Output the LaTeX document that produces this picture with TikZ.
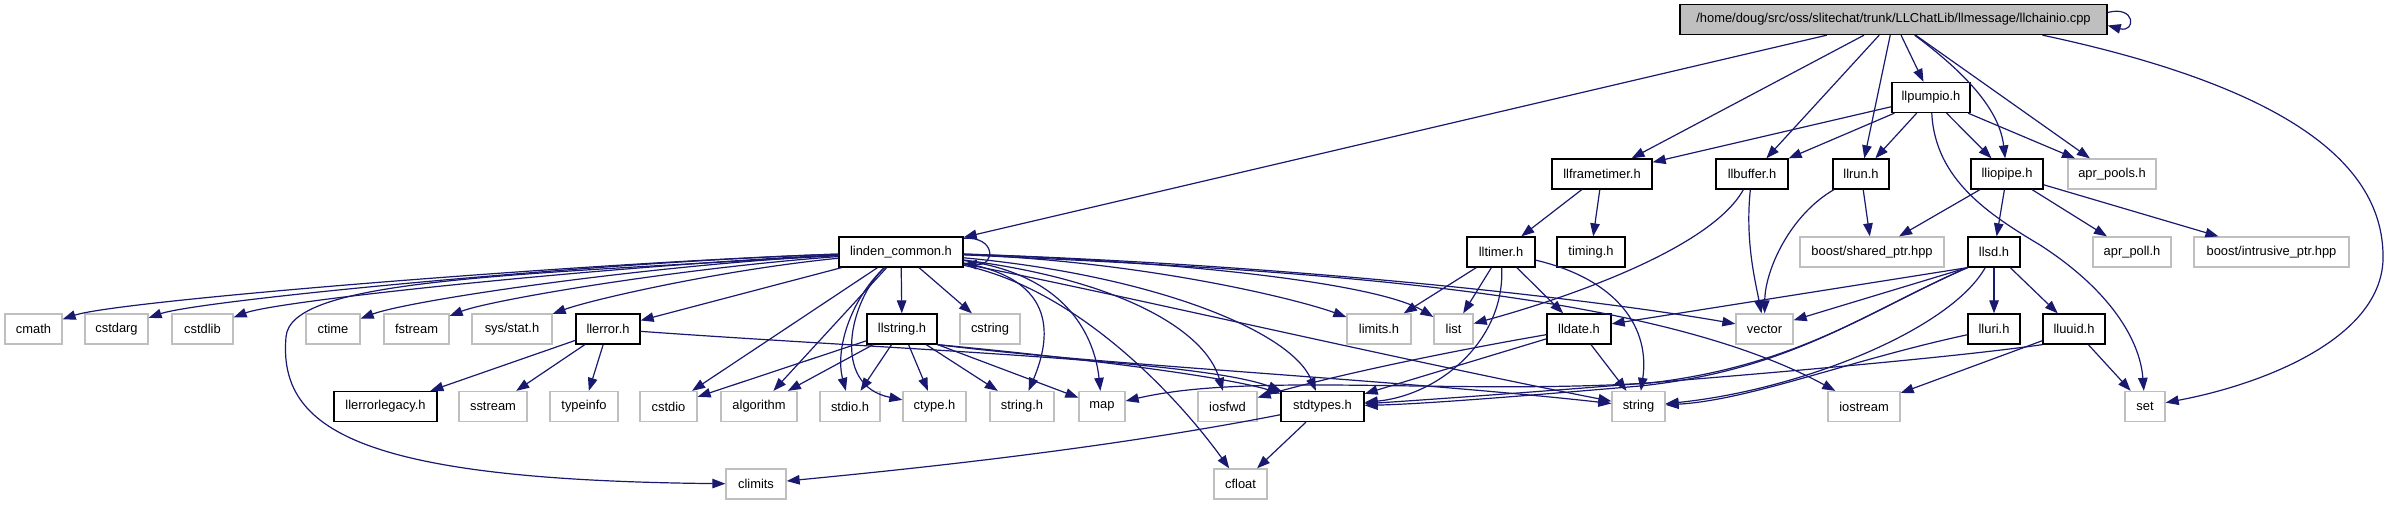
\documentclass[tikz,border=0pt]{standalone}
\usepackage{fontspec}
\setmainfont{Liberation Sans}
\usetikzlibrary{arrows.meta}
\definecolor{edgeblue}{HTML}{191970}
\definecolor{greyline}{HTML}{BFBFBF}
\tikzset{
  box/.style={draw=black, line width=1.3pt, fill=white, minimum height=30pt, inner sep=0pt,
              font=\fontsize{12.9}{15}\selectfont, text=black},
  ext/.style={box, draw=greyline},
  root/.style={box, fill=greyline},
  e/.style={draw=edgeblue, line width=1.2pt, -{Triangle[length=13pt,width=9.5pt]}}
}
\begin{document}
\begin{tikzpicture}[x=1pt,y=-1pt]
\useasboundingbox (0,0) rectangle (2389,504);
\fill[white] (0,0) rectangle (2389,504);
% rank 0
\node[root, minimum width=427pt] (llc) at (1893.5,19.5) {/home/doug/src/oss/slitechat/trunk/LLChatLib/llmessage/llchainio.cpp};
% rank 1
\node[box, minimum width=78pt] (llp) at (1931,97.5) {llpumpio.h};
% rank 2
\node[box, minimum width=100pt] (lft) at (1602,174) {llframetimer.h};
\node[box, minimum width=72pt] (lbuf) at (1752,174) {llbuffer.h};
\node[box, minimum width=56pt] (lrun) at (1861,174) {llrun.h};
\node[box, minimum width=72pt] (liop) at (2007,174) {lliopipe.h};
\node[ext, minimum width=88pt] (aprpools) at (2112,174) {apr\_pools.h};
% rank 3
\node[box, minimum width=124pt] (lc) at (901,252) {linden\_common.h};
\node[box, minimum width=68pt] (ltim) at (1501,252) {lltimer.h};
\node[box, minimum width=68pt] (timing) at (1591,252) {timing.h};
\node[ext, minimum width=144pt] (bsp) at (1872,252) {boost/shared\_ptr.hpp};
\node[box, minimum width=52pt] (llsd) at (1994,252) {llsd.h};
\node[ext, minimum width=78pt] (aprpoll) at (2132,252) {apr\_poll.h};
\node[ext, minimum width=155pt] (bip) at (2271.5,252) {boost/intrusive\_ptr.hpp};
% rank 4
\node[ext, minimum width=57pt] (cmath) at (33.5,329) {cmath};
\node[ext, minimum width=63pt] (cstdarg) at (116.5,329) {cstdarg};
\node[ext, minimum width=61pt] (cstdlib) at (202.5,329) {cstdlib};
\node[ext, minimum width=54pt] (ctime) at (333,329) {ctime};
\node[ext, minimum width=65pt] (fstream) at (416.5,329) {fstream};
\node[ext, minimum width=80pt] (sysstat) at (512,329) {sys/stat.h};
\node[box, minimum width=64pt] (llerror) at (608,329) {llerror.h};
\node[box, minimum width=70pt] (llstr) at (902,329) {llstring.h};
\node[ext, minimum width=60pt] (cstring) at (990,329) {cstring};
\node[ext, minimum width=64pt] (limits) at (1379,329) {limits.h};
\node[ext, minimum width=39pt] (list) at (1453.5,329) {list};
\node[box, minimum width=64pt] (lldate) at (1579,329) {lldate.h};
\node[ext, minimum width=57pt] (vector) at (1764.5,329) {vector};
\node[box, minimum width=52pt] (lluri) at (1994,329) {lluri.h};
\node[box, minimum width=62pt] (lluuid) at (2074,329) {lluuid.h};
% rank 5
\node[box, minimum width=103pt] (lel) at (385.5,406.5) {llerrorlegacy.h};
\node[ext, minimum width=68pt] (sstream) at (493,406.5) {sstream};
\node[ext, minimum width=68pt] (typeinfo) at (584,406.5) {typeinfo};
\node[ext, minimum width=57pt] (cstdio) at (668.5,406.5) {cstdio};
\node[ext, minimum width=76pt] (algorithm) at (759,406.5) {algorithm};
\node[ext, minimum width=60pt] (stdioh) at (850,406.5) {stdio.h};
\node[ext, minimum width=63pt] (ctypeh) at (934.5,406.5) {ctype.h};
\node[ext, minimum width=64pt] (stringh) at (1022,406.5) {string.h};
\node[ext, minimum width=46pt] (map) at (1102,406.5) {map};
\node[ext, minimum width=59pt] (iosfwd) at (1227.5,406.5) {iosfwd};
\node[box, minimum width=83pt] (stdtypes) at (1322.5,406.5) {stdtypes.h};
\node[ext, minimum width=53pt] (string) at (1638.5,406.5) {string};
\node[ext, minimum width=72pt] (iostream) at (1864,406.5) {iostream};
\node[ext, minimum width=40pt] (set) at (2145,406.5) {set};
% rank 6
\node[ext, minimum width=60pt] (climits) at (756,484) {climits};
\node[ext, minimum width=53pt] (cfloat) at (1240.5,484) {cfloat};

% ---- edges from llchainio.cpp
\draw[e] ([yshift=7pt]llc.east) .. controls (2136,5) and (2136,33) .. ([yshift=-6pt]llc.east);
\draw[e] (llc) -- (lc);
\draw[e] (llc) -- (lft);
\draw[e] (llc) -- (lbuf);
\draw[e] (llc) -- (lrun);
\draw[e] (llc) -- (llp);
\draw[e] (llc) .. controls (1975,80) and (2000,115) .. (liop);
\draw[e] (llc) -- (aprpools);
\draw[e] (llc.-6.6) .. controls (2300,90) and (2385,170) .. (2383,260) .. controls (2380,340) and (2260,385) .. (set);
% ---- llpumpio.h
\draw[e] (llp) -- (lft);
\draw[e] (llp) -- (lbuf);
\draw[e] (llp) -- (lrun);
\draw[e] (llp) -- (liop);
\draw[e] (llp) -- (aprpools);
\draw[e] (llp) .. controls (1935,180) and (1990,215) .. (2040,245) .. controls (2110,290) and (2140,340) .. (set);
% ---- llframetimer.h
\draw[e] (lft) -- (ltim);
\draw[e] (lft) -- (timing);
% ---- llbuffer.h
\draw[e] (lbuf) .. controls (1710,250) and (1560,300) .. (list);
\draw[e] (lbuf) .. controls (1745,240) and (1755,280) .. (vector);
% ---- llrun.h
\draw[e] (lrun) .. controls (1790,215) and (1765,270) .. (vector);
\draw[e] (lrun) -- (bsp);
% ---- lliopipe.h
\draw[e] (liop) -- (bsp);
\draw[e] (liop) -- (llsd);
\draw[e] (liop) -- (aprpoll);
\draw[e] (liop) -- (bip);
% ---- linden_common.h
\draw[e] ([yshift=-2pt]lc.north east) .. controls (996,236) and (996,266) .. ([yshift=4pt]lc.south east);
\draw[e] (lc) .. controls (600,262) and (120,300) .. (cmath);
\draw[e] (lc) .. controls (600,262) and (200,300) .. (cstdarg);
\draw[e] (lc) .. controls (620,265) and (280,300) .. (cstdlib);
\draw[e] (lc) .. controls (650,265) and (410,300) .. (ctime);
\draw[e] (lc) .. controls (680,268) and (490,300) .. (fstream);
\draw[e] (lc) .. controls (720,270) and (590,300) .. (sysstat);
\draw[e] (lc) -- (llerror);
\draw[e] (lc) .. controls (500,275) and (290,280) .. (286,337) .. controls (278,430) and (360,480) .. (climits);
\draw[e] (lc) -- (cstdio);
\draw[e] (lc) -- (algorithm);
\draw[e] (lc) .. controls (850,300) and (835,350) .. (stdioh);
\draw[e] (lc) .. controls (850,300) and (830,385) .. (ctypeh);
\draw[e] (lc) -- (llstr);
\draw[e] (lc) -- (cstring);
\draw[e] (lc) .. controls (1060,280) and (1050,340) .. (stringh);
\draw[e] (lc) .. controls (1070,275) and (1095,340) .. (map);
\draw[e] (lc) .. controls (1120,280) and (1205,330) .. (iosfwd);
\draw[e] (lc) .. controls (1150,275) and (1290,330) .. (stdtypes);
\draw[e] (lc) .. controls (1080,290) and (1180,400) .. (cfloat);
\draw[e] (lc) .. controls (1150,262) and (1300,300) .. (limits);
\draw[e] (lc) .. controls (1200,262) and (1380,285) .. (list);
\draw[e] (lc) .. controls (1300,265) and (1600,300) .. (vector);
\draw[e] (lc) .. controls (1300,270) and (1650,290) .. (iostream);
\draw[e] (lc) .. controls (1100,290) and (1400,360) .. (string);
% ---- llerror.h
\draw[e] (llerror) -- (lel);
\draw[e] (llerror) -- (sstream);
\draw[e] (llerror) -- (typeinfo);
\draw[e] (llerror) .. controls (900,350) and (1200,360) .. (stdtypes);
% ---- llstring.h
\draw[e] (llstr) -- (cstdio);
\draw[e] (llstr) -- (algorithm);
\draw[e] (llstr) -- (stdioh);
\draw[e] (llstr) -- (ctypeh);
\draw[e] (llstr) -- (stringh);
\draw[e] (llstr.south east) -- (map);
\draw[e] (llstr.south east) .. controls (1100,360) and (1230,378) .. (stdtypes);
\draw[e] (llstr.south east) .. controls (1100,365) and (1400,380) .. (string);
% ---- stdtypes.h
\draw[e] (stdtypes) -- (cfloat);
\draw[e] (stdtypes) .. controls (1100,450) and (900,470) .. (climits);
% ---- lltimer.h
\draw[e] (ltim) -- (limits);
\draw[e] (ltim) -- (list);
\draw[e] (ltim) .. controls (1505,340) and (1440,395) .. (stdtypes);
\draw[e] (ltim) -- (lldate);
\draw[e] (ltim) .. controls (1620,280) and (1650,330) .. (string);
% ---- lldate.h
\draw[e] (lldate) .. controls (1400,360) and (1300,385) .. (iosfwd);
\draw[e] (lldate) -- (stdtypes);
\draw[e] (lldate) -- (string);
% ---- llsd.h
\draw[e] (llsd.south west) -- (lldate);
\draw[e] (llsd.south west) -- (vector);
\draw[e] (llsd.south west) .. controls (1870,310) and (1800,365) .. (1650,383) .. controls (1450,395) and (1250,372) .. (map);
\draw[e] (llsd.south west) .. controls (1860,315) and (1790,370) .. (1640,386) .. controls (1500,398) and (1420,404) .. (stdtypes);
\draw[e] (llsd) .. controls (1950,330) and (1800,390) .. (string);
\draw[e] (llsd) -- (lluri);
\draw[e] (llsd) -- (lluuid);
% ---- lluri.h
\draw[e] (lluri) .. controls (1850,360) and (1750,400) .. (string);
% ---- lluuid.h
\draw[e] (lluuid.south west) .. controls (1900,365) and (1500,395) .. (stdtypes);
\draw[e] (lluuid) -- (iostream);
\draw[e] (lluuid) -- (set);
\end{tikzpicture}
\end{document}
